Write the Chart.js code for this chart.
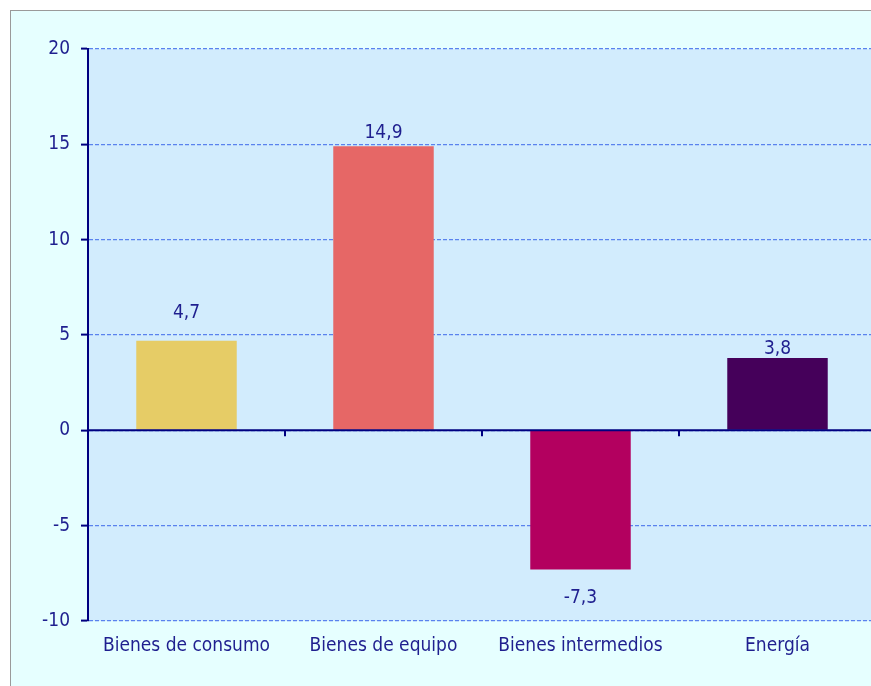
<!DOCTYPE html>
<html>
<head>
<meta charset="utf-8">
<script src="https://cdn.jsdelivr.net/npm/chart.js@4/dist/chart.umd.min.js"></script>
<style>
  html, body { margin: 0; padding: 0; background: #fff; overflow: hidden; }
  .frame {
    position: absolute; left: 10px; top: 10px; width: 900px; height: 700px;
    background: #e6ffff; border: 1px solid #9a9a9a;
  }
  #chart { position: absolute; left: 0; top: 0; }
</style>
</head>
<body>
<div class="frame"></div>
<canvas id="chart" width="880" height="686"></canvas>
<script>
const categories = ['Bienes de consumo', 'Bienes de equipo', 'Bienes intermedios', 'Energía'];
const values = [4.7, 14.9, -7.3, 3.8];
const barColors = ['#e6cc66', '#e66766', '#b3005f', '#45005a'];
const yTicks = [-10, -5, 0, 5, 10, 15, 20];

const navy = '#000080';
const textColor = '#1f1f8f';
const font = { family: '"DejaVu Sans Condensed", "DejaVu Sans", sans-serif', size: 19 };
// distance of each value label from the end of its bar (px)
const labelGap = [28, 13, 29, 9];

// plot background, zero line, category ticks and value labels
const decor = {
  id: 'decor',
  beforeDraw(chart) {
    const { ctx, chartArea: a } = chart;
    ctx.save();
    ctx.fillStyle = '#d2ecfd';
    ctx.fillRect(a.left, a.top, a.right - a.left, a.bottom - a.top);
    ctx.restore();
  },
  afterDatasetsDraw(chart) {
    const { ctx, chartArea: a, scales: { y } } = chart;
    const y0 = y.getPixelForValue(0);
    ctx.save();
    ctx.strokeStyle = navy;
    ctx.lineWidth = 2;
    ctx.beginPath();
    ctx.moveTo(a.left, y0);
    ctx.lineTo(a.right, y0);
    const step = (a.right - a.left) / categories.length;
    for (let i = 1; i <= categories.length; i++) {
      const px = Math.round(a.left + i * step);
      ctx.moveTo(px, y0);
      ctx.lineTo(px, y0 + 6);
    }
    ctx.stroke();

    ctx.fillStyle = textColor;
    ctx.font = font.size + 'px ' + font.family;
    ctx.textAlign = 'center';
    ctx.textBaseline = 'middle';
    chart.getDatasetMeta(0).data.forEach((bar, i) => {
      const v = values[i];
      const ly = v >= 0 ? bar.y - labelGap[i] : bar.y + labelGap[i];
      ctx.fillText(v.toFixed(1).replace('.', ','), bar.x, ly);
    });
    ctx.restore();
  }
};

new Chart(document.getElementById('chart'), {
  type: 'bar',
  data: {
    labels: categories,
    datasets: [{
      data: values,
      backgroundColor: barColors,
      borderWidth: 0,
      categoryPercentage: 1,
      barPercentage: 0.51
    }]
  },
  options: {
    responsive: false,
    animation: false,
    devicePixelRatio: 1,
    layout: { padding: { top: 49, right: 4, left: 0, bottom: 0 } },
    plugins: {
      legend: { display: false },
      tooltip: { enabled: false }
    },
    scales: {
      x: {
        afterFit(scale) { scale.height = 65; },
        grid: { display: false, drawTicks: false },
        border: { display: false },
        ticks: { color: textColor, font: font, padding: 14, maxRotation: 0, autoSkip: false }
      },
      y: {
        min: yTicks[0],
        max: yTicks[yTicks.length - 1],
        afterFit(scale) { scale.width = 88; },
        afterBuildTicks(scale) { scale.ticks = yTicks.map(v => ({ value: v })); },
        grid: {
          color: '#5a82ee',
          lineWidth: 1.2,
          tickColor: navy,
          tickLength: 7,
          tickWidth: 2,
          tickBorderDash: []
        },
        border: { display: true, color: navy, width: 2, dash: [4, 2] },
        ticks: { color: textColor, font: font, padding: 11 }
      }
    }
  },
  plugins: [decor]
});
</script>
</body>
</html>
